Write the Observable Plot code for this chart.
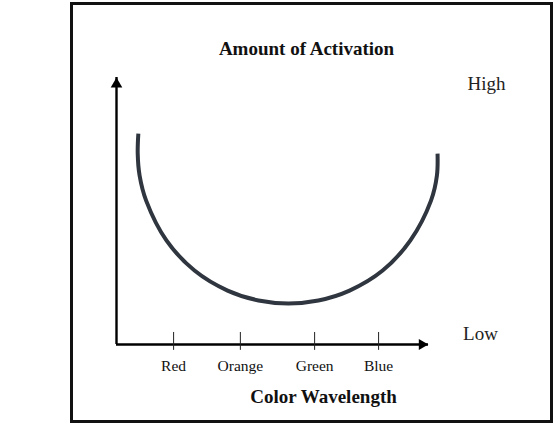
<!DOCTYPE html>
<html><head><meta charset="utf-8">
<script src="https://cdn.jsdelivr.net/npm/d3@7"></script>
<script src="https://cdn.jsdelivr.net/npm/@observablehq/plot@0.6"></script>
<style>
html,body{margin:0;padding:0;background:#fff;width:559px;height:424px;overflow:hidden;}
#box{position:absolute;left:70px;top:2px;width:483px;height:421px;box-sizing:border-box;border:3px solid #111;}
#chart{position:absolute;left:0;top:0;}
</style></head><body>
<div id="box"></div>
<div id="chart"></div>
<script>
// Data
const categories = ["Red", "Orange", "Green", "Blue"];
const tickPositions = [1.83, 3.97, 6.35, 8.40];
const wavelength = [0.70, 0.68, 0.74, 0.95, 1.60, 2.50, 3.56, 4.55, 5.51, 6.47, 7.47, 8.53, 9.42, 10.08, 10.27, 10.29];
const activation = [79.0, 71.5, 63.3, 53.9, 39.0, 27.7, 20.2, 16.5, 15.4, 16.5, 20.2, 27.7, 39.0, 53.9, 63.3, 71.5];
const titleText = ["Amount of Activation"];
const xLabel = ["Color Wavelength"];
const levelLabels = ["High", "Low"];
const xMax = 10, yMax = 100;

const idx = d3.range(wavelength.length);
const serif = "'Liberation Serif', 'Times New Roman', Times, serif";

const chart = Plot.plot({
  width: 559,
  height: 424,
  marginLeft: 116,
  marginRight: 131,
  marginTop: 77,
  marginBottom: 80,
  x: {domain: [0, xMax]},
  y: {domain: [0, yMax], axis: null},
  style: {background: "transparent", fontFamily: serif, color: "#111", overflow: "visible"},
  marks: [
    // axis lines with arrows
    Plot.ruleY([0], {x1: 0, x2: xMax, stroke: "#000", strokeWidth: 2.6}),
    Plot.ruleX([0], {y1: 0, y2: yMax, stroke: "#000", strokeWidth: 2.4}),
    Plot.dot([0], {x: xMax, y: 0, symbol: "triangle", r: 4.1, fill: "#000", stroke: "none", rotate: 90, dx: -6.5}),
    Plot.dot([0], {x: 0, y: yMax, symbol: "triangle", r: 4.3, fill: "#000", stroke: "none", rotate: 0, dy: 6.7}),
    // ticks crossing the x axis
    Plot.ruleX(tickPositions, {y1: -2.2, y2: 4.5, stroke: "#222", strokeWidth: 1}),
    Plot.axisX(tickPositions, {
      tickFormat: d => categories[tickPositions.indexOf(d)],
      tickSize: 0, tickPadding: 15, fontSize: 15.5, label: null
    }),
    // response curve
    Plot.line(idx, {
      x: i => wavelength[i], y: i => activation[i],
      curve: "catmull-rom", stroke: "#30363f", strokeWidth: 4, strokeLinecap: "butt"
    }),
    // texts
    Plot.text(titleText, {text: d => d, frameAnchor: "top", textAnchor: "middle", lineAnchor: "middle",
      dx: 34, dy: -29, fontSize: 19, fontWeight: "bold"}),
    Plot.text(xLabel, {text: d => d, frameAnchor: "bottom", textAnchor: "middle", lineAnchor: "middle",
      dx: 51, dy: 52.5, fontSize: 19, fontWeight: "bold"}),
    Plot.text([levelLabels[0]], {text: d => d, frameAnchor: "top-right", textAnchor: "middle", lineAnchor: "middle",
      dx: 58, dy: 6.5, fontSize: 19, fill: "#222"}),
    Plot.text([levelLabels[1]], {text: d => d, frameAnchor: "bottom-right", textAnchor: "middle", lineAnchor: "middle",
      dx: 52, dy: -11, fontSize: 19, fill: "#222"})
  ]
});
document.getElementById("chart").appendChild(chart);
</script>
</body></html>
